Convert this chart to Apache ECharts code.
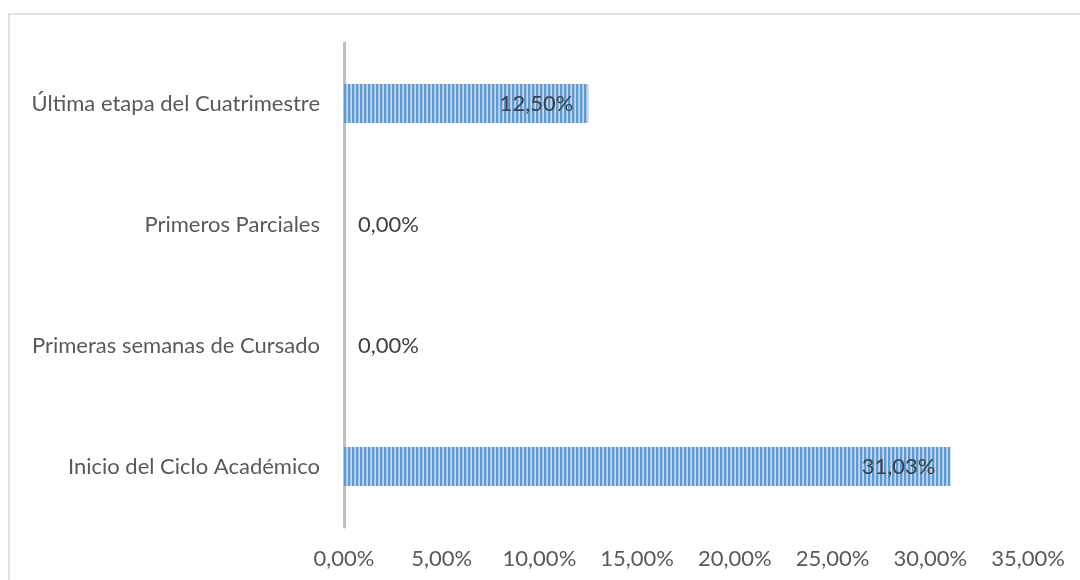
<!DOCTYPE html>
<html>
<head>
<meta charset="utf-8">
<script src="https://cdn.jsdelivr.net/npm/echarts@6/dist/echarts.min.js"></script>
<style>
html,body{margin:0;padding:0;background:#fff;}
#c{width:1080px;height:580px;}
</style>
</head>
<body>
<div id="c"></div>
<script>
var categories = ['Inicio del Ciclo Académico', 'Primeras semanas de Cursado', 'Primeros Parciales', 'Última etapa del Cuatrimestre'];
var values = [31.03, 0, 0, 12.5];
var axisTicks = [0, 5, 10, 15, 20, 25, 30, 35];

function fmt(v) { return v.toFixed(2).replace('.', ',') + '%'; }

var pc = document.createElement('canvas');
pc.width = 4; pc.height = 4;
var ctx = pc.getContext('2d');
var cols = ['#5b9bd5', '#5b9bd5', '#a4c6ea', '#c4daf2'];
for (var i = 0; i < 4; i++) { ctx.fillStyle = cols[i]; ctx.fillRect(i, 0, 1, 4); }

var FONT = 'Lato';
var FS = 22;
var chart = echarts.init(document.getElementById('c'));
chart.setOption({
  animation: false,
  backgroundColor: '#fff',
  graphic: [{
    type: 'rect', shape: { x: 9, y: 14, width: 1200, height: 700 },
    style: { fill: 'none', stroke: '#d9d9d9', lineWidth: 1.5 }, silent: true, z: -1
  }],
  grid: { left: 344, right: 52, top: 43, bottom: 53, containLabel: false },
  xAxis: {
    type: 'value', min: axisTicks[0], max: axisTicks[axisTicks.length - 1], interval: 5,
    axisLine: { show: false }, axisTick: { show: false }, splitLine: { show: false },
    axisLabel: { formatter: function (v) { return fmt(v); }, color: '#595959', fontSize: FS, fontFamily: FONT, margin: 21 }
  },
  yAxis: {
    type: 'category', data: categories,
    axisLine: { show: true, lineStyle: { color: '#bfbfbf', width: 3 } },
    axisTick: { show: false },
    axisLabel: { color: '#595959', fontSize: FS, fontFamily: FONT, margin: 24 }
  },
  series: [{
    type: 'bar', barWidth: 39,
    data: values.map(function (v) {
      return {
        value: v,
        label: v === 0 ? { position: 'right', distance: 14 } : { position: 'insideRight', distance: 15 }
      };
    }),
    itemStyle: { color: { image: pc, repeat: 'repeat' } },
    label: { show: true, formatter: function (p) { return fmt(p.value); }, color: '#404040', fontSize: FS, fontFamily: FONT }
  }]
});
</script>
</body>
</html>
